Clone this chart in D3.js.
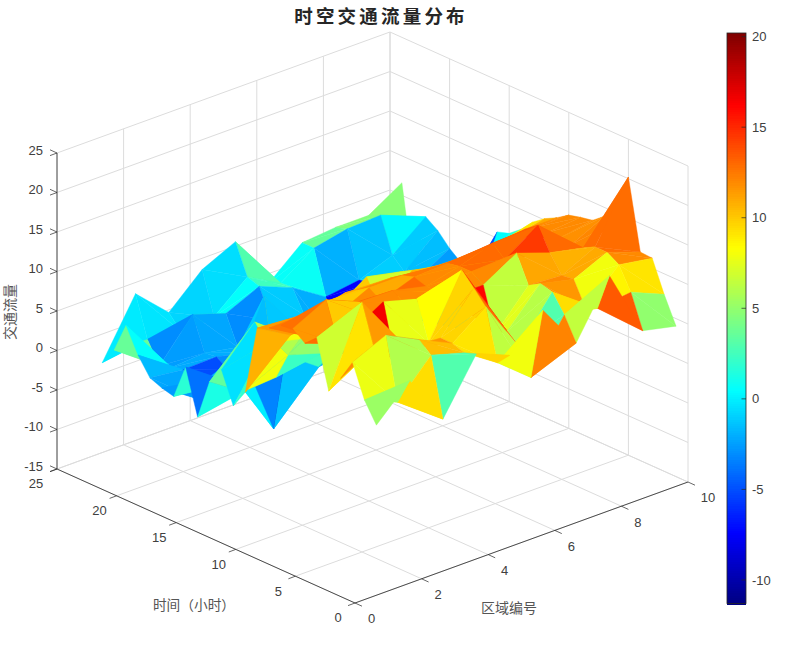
<!DOCTYPE html>
<html><head><meta charset="utf-8">
<script src="https://cdn.jsdelivr.net/npm/d3@7"></script>
<style>html,body{margin:0;padding:0;background:#fff}svg{display:block}text{font-family:"Liberation Sans",Arial,sans-serif}</style>
</head><body><svg id="c" width="794" height="661"></svg>
<script>
const titleText = "时空交通流量分布";
const xLabel = "区域编号", yLabel = "时间（小时）", zLabel = "交通流量";
const xTicks = [0,2,4,6,8,10];
const yTicks = [0,5,10,15,20,25];
const zTicks = [-15,-10,-5,0,5,10,15,20,25];
const barTicks = [-10,-5,0,5,10,15,20];
const colorLimits = [-11.3,20.2];
const regions = [1,2,3,4,5,6,7,8,9,10];
const hours = d3.range(1,25);
// traffic[hour-1][region-1]
const traffic = [
 [5.3,9.4,3.0,9.7,8.0,12.2,6.5,13.5,5.0,4.05],
 [7.8,6.0,10.4,9.2,6.4,3.0,9.4,8.7,9.2,7.4],
 [11.9,13.8,11.7,9.7,12.8,6.2,11.6,8.0,12.0,11.3],
 [9.2,11.5,10.0,9.7,14.5,7.5,12.0,11.0,12.9,11.4],
 [6.9,16.6,7.7,8.4,16.1,6.5,11.1,10.8,12.9,20.2],
 [13.0,12.0,14.5,13.3,12.0,12.0,14.5,13.0,12.1,14.0],
 [11.6,10.0,12.0,12.0,12.0,13.0,13.0,15.8,11.8,13.9],
 [12.8,14.9,13.1,13.0,12.0,13.0,14.4,14.6,12.0,12.7],
 [12.5,9.4,12.0,11.0,12.5,12.7,13.0,13.0,12.0,12.4],
 [11.5,11.6,10.0,12.0,12.0,11.5,11.5,11.8,12.0,12.0],
 [10.8,8.4,11.0,11.0,11.0,10.5,10.0,10.3,11.0,11.0],
 [2.0,8.1,9.0,10.0,7.0,9.7,8.8,9.0,9.3,10.2],
 [-0.4,6.0,5.0,7.0,9.8,8.9,5.0,4.0,8.0,9.1],
 [3.5,8.0,2.3,1.0,0.0,0.0,1.0,1.0,2.0,7.5],
 [1.3,-1.5,-1.2,2.0,0.0,-1.0,0.0,-1.0,0.5,6.3],
 [-3.85,-1.0,8.4,2.5,-2.0,-2.0,-1.0,-2.0,-5.0,5.8],
 [1.8,-2.0,-3.3,-1.3,-4.3,-2.0,-2.0,-3.0,-3.0,-1.0],
 [-2.6,-2.0,0.0,-11.3,-3.0,-3.0,-2.0,-3.0,-2.0,-1.0],
 [-2.2,-5.0,-3.0,-3.0,-3.0,-2.0,-2.0,-2.0,-2.5,-0.2],
 [-1.6,-2.1,-2.0,-3.0,-2.0,-2.0,-1.0,-7.4,-1.5,1.0],
 [0.6,-2.5,-2.2,-3.0,-1.1,-2.0,-7.4,-1.0,-1.1,2.6],
 [3.7,-3.0,2.0,0.6,2.5,0.8,-1.9,-1.3,0.3,3.66],
 [-0.1,-0.3,-0.8,-0.5,3.0,0.7,3.6,4.5,4.7,-4.5],
 [-2.4,4.8,0.9,4.8,6.8,0.0,3.6,4.0,4.0,6.6]
];

const svg = d3.select("#c");
// axonometric projection from three linear scales
const ox = 355, oy = 603;
const xDomain=[0,10], yDomain=[0,25], zDomain=[-15,25];
const xh = d3.scaleLinear(xDomain,[0,333]), xv = d3.scaleLinear(xDomain,[0,-121]);
const yh = d3.scaleLinear(yDomain,[0,-298]), yv = d3.scaleLinear(yDomain,[0,-134]);
const zv = d3.scaleLinear(zDomain,[0,-316]);
const P = (x,y,z)=>[ox+xh(x)+yh(y), oy+xv(x)+yv(y)+zv(z)];
const jet = d3.scaleLinear()
  .domain([0,.125,.375,.625,.875,1].map(t=>colorLimits[0]+t*(colorLimits[1]-colorLimits[0])))
  .range(["#000080","#0000ff","#00ffff","#ffff00","#ff0000","#800000"]).clamp(true);
const line = d3.line();
const gridColor="#dcdcdc", axisColor="#262626", labelColor="#404040";
const seg=(g,a,b,c,w)=>g.append("line").attr("x1",a[0]).attr("y1",a[1]).attr("x2",b[0]).attr("y2",b[1]).attr("stroke",c).attr("stroke-width",w);

// grid
const gg = svg.append("g");
const [x0,x1]=xDomain,[y0,y1]=yDomain,[z0,z1]=zDomain;
xTicks.forEach(x=>{seg(gg,P(x,y0,z0),P(x,y1,z0),gridColor,1);seg(gg,P(x,y1,z0),P(x,y1,z1),gridColor,1);});
yTicks.forEach(y=>{seg(gg,P(x0,y,z0),P(x1,y,z0),gridColor,1);seg(gg,P(x1,y,z0),P(x1,y,z1),gridColor,1);});
zTicks.forEach(z=>{seg(gg,P(x0,y1,z),P(x1,y1,z),gridColor,1);seg(gg,P(x1,y1,z),P(x1,y0,z),gridColor,1);});

// surface: back to front, every cell coloured by its lowest-index corner
const sg = svg.append("g");
for(let j=hours.length-2;j>=0;j--){
  for(let i=regions.length-2;i>=0;i--){
    const c=jet(traffic[j][i]);
    const v=(a,b)=>P(regions[a],hours[b],traffic[b][a]);
    [[v(i+1,j+1),v(i,j+1),v(i+1,j)],[v(i,j),v(i+1,j),v(i,j+1)]].forEach(t=>{
      sg.append("path").attr("d",line(t)+"Z").attr("fill",c).attr("stroke",c).attr("stroke-width",.4).attr("stroke-linejoin","round");
    });
  }
}

// axes
const ag=svg.append("g");
seg(ag,P(x0,y1,z0),P(x0,y1,z1),axisColor,.8);
seg(ag,P(x0,y0,z0),P(x0,y1,z0),axisColor,.8);
seg(ag,P(x0,y0,z0),P(x1,y0,z0),axisColor,.8);
const txt=(p,s,anchor)=>svg.append("text").attr("x",p[0]).attr("y",p[1]).attr("text-anchor",anchor||"middle")
  .attr("dominant-baseline","middle").attr("font-size",13).attr("fill",labelColor).text(s);
xTicks.forEach(x=>{const p=P(x,y0,z0);seg(ag,p,[p[0]+7,p[1]+3.2],axisColor,.7);
  txt([p[0]+(x===10?20:16.5),p[1]+17],x);});
yTicks.forEach(y=>{const p=P(x0,y,z0);seg(ag,p,[p[0]-7,p[1]+2.6],axisColor,.7);
  txt([p[0]-(y===25?21:17),p[1]+16],y);});
zTicks.forEach(z=>{const p=P(x0,y1,z);seg(ag,p,[p[0]-7,p[1]+2.6],axisColor,.7);seg(ag,p,[p[0]-7,p[1]-3.2],axisColor,.7);
  txt([p[0]-14,p[1]-1.5],z,"end");});

// colorbar
const barX=727, barW=19, barTop=33, barBot=603.5;
const barY=d3.scaleLinear(colorLimits,[barBot,barTop]);
const cb=svg.append("g").attr("shape-rendering","crispEdges");
d3.range(0,256).forEach(k=>{
  const a=colorLimits[0]+k/256*(colorLimits[1]-colorLimits[0]), b=colorLimits[0]+(k+1)/256*(colorLimits[1]-colorLimits[0]);
  cb.append("rect").attr("x",barX).attr("width",barW).attr("y",barY(b)).attr("height",barY(a)-barY(b)+1).attr("fill",jet((a+b)/2));
});
const cb2=svg.append("g");
cb2.append("rect").attr("x",barX).attr("y",barTop).attr("width",barW).attr("height",barBot-barTop).attr("fill","none").attr("stroke",axisColor).attr("stroke-width",.8);
barTicks.forEach(t=>{seg(cb2,[barX+barW-4.5,barY(t)],[barX+barW,barY(t)],axisColor,.7);
  txt([barX+barW+6,barY(t)+1.2],t,"start");});

// text
const cjk='"Noto Sans CJK SC","Noto Sans CJK JP",sans-serif';
svg.append("text").attr("x",381).attr("y",18).attr("text-anchor","middle").attr("dominant-baseline","middle")
  .attr("font-size",18.5).attr("letter-spacing",3.2).attr("font-weight","bold").attr("fill","#262626").style("font-family",cjk).text(titleText);
svg.append("text").attr("x",509).attr("y",609).attr("text-anchor","middle").attr("dominant-baseline","middle")
  .attr("font-size",14).attr("fill","#555").style("font-family",cjk).text(xLabel);
svg.append("text").attr("x",194).attr("y",606).attr("text-anchor","middle").attr("dominant-baseline","middle")
  .attr("font-size",13.7).attr("fill","#555").style("font-family",cjk).text(yLabel);
svg.append("text").attr("transform","translate(11.5,312) rotate(-90)").attr("text-anchor","middle").attr("dominant-baseline","middle")
  .attr("font-size",14).attr("fill","#555").style("font-family",cjk).text(zLabel);
</script></body></html>
